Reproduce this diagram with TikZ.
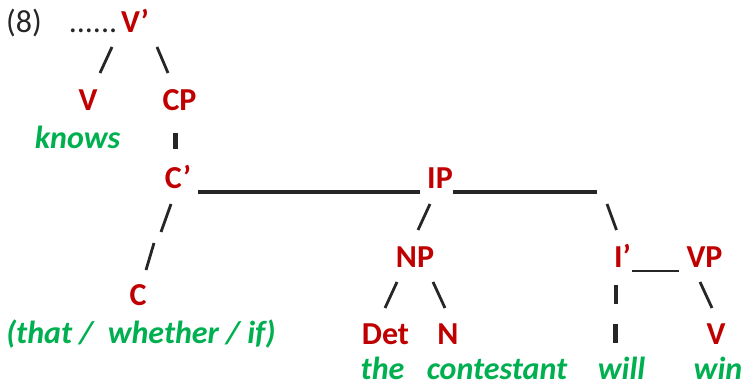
\documentclass[tikz,border=0pt]{standalone}
\usepackage{fontspec}
\setmainfont{Carlito}
\usetikzlibrary{calc}
\definecolor{cat}{HTML}{C00000}
\definecolor{word}{HTML}{00B050}
\definecolor{ink}{HTML}{262626}
\tikzset{
  lbl/.style={anchor=base, inner sep=0pt, font=\fontsize{32}{38}\selectfont\bfseries, text=cat},
  wrd/.style={anchor=base, inner sep=0pt, font=\fontsize{32}{38}\selectfont\bfseries\itshape, text=word},
  plain/.style={anchor=base, inner sep=0pt, font=\fontsize{32}{38}\selectfont, text=ink},
  sl/.style={draw=ink, line width=2.8pt},
  bar/.style={draw=ink, line width=4.2pt},
  ul/.style={draw=ink, line width=3.2pt},
  thinul/.style={draw=ink, line width=2.2pt}
}
\begin{document}
\begin{tikzpicture}[x=1pt,y=-1pt]
\useasboundingbox (0,0) rectangle (743,387);
% nodes
\node[plain] (n8) at (24,33) {(8)};
\node[plain] (dots) at (93,33) {......};
\node[lbl] (Vp) at (135,33) {V’};
\node[lbl] (V1) at (88,111) {V};
\node[lbl] (CP) at (179.5,111) {CP};
\node[wrd] (knows) at (77.5,149) {knows};
\node[lbl] (Cb) at (178,189) {C’};
\node[lbl] (IP) at (440,189) {IP};
\node[lbl] (NP) at (415,267) {NP};
\node[lbl] (Ib) at (622.5,267) {I’};
\node[lbl] (VP) at (704.5,267) {VP};
\node[lbl] (C) at (138,305) {C};
\node[lbl] (Det) at (385.5,344) {Det};
\node[lbl] (N) at (448,344) {N};
\node[lbl] (V2) at (716,344) {V};
\node[wrd] (comp) at (141,343) {(that /\ \ whether / if)};
\node[wrd] (the) at (382.5,379) {the};
\node[wrd] (contestant) at (497,379) {contestant};
\node[wrd] (will) at (621.5,379) {will};
\node[wrd] (win) at (718,379) {win};
% connectors
\draw[sl] ($(Vp.base)+(-23,14)$) -- ($(V1.base)+(12,-38)$);
\draw[sl] ($(Vp.base)+(22,14)$) -- ($(CP.base)+(-11.5,-38)$);
\draw[bar] ($(CP.base)+(-4,22)$) -- ($(Cb.base)+(-2.5,-40)$);
\draw[ul] ($(Cb.base)+(20,3)$) -- ($(IP.base)+(-20,3)$);
\draw[sl] ($(Cb.base)+(-7,15)$) -- ($(Cb.base)+(-17,43)$)
          ($(C.base)+(16,-62)$) -- ($(C.base)+(8,-35)$);
\draw[ul] ($(IP.base)+(13,3)$) -- ($(Ib.base)+(-25.5,-75)$);
\draw[sl] ($(IP.base)+(-10,15)$) -- ($(NP.base)+(3,-37)$);
\draw[sl] ($(IP.base)+(167,15)$) -- ($(Ib.base)+(-6,-37)$);
\draw[sl] ($(NP.base)+(-18,15)$) -- ($(Det.base)+(-0.5,-36)$);
\draw[sl] ($(NP.base)+(18,15)$) -- ($(N.base)+(-3,-36)$);
\draw[thinul] ($(Ib.base)+(9,4)$) -- ($(VP.base)+(-26,4)$);
\draw[sl] ($(VP.base)+(-4.5,15)$) -- ($(V2.base)+(-4,-36)$);
\draw[bar] ($(Ib.base)+(-6.5,18)$) -- ($(Ib.base)+(-6.5,37)$)
           ($(will.base)+(-6,-55)$) -- ($(will.base)+(-6,-36)$);
\end{tikzpicture}
\end{document}
